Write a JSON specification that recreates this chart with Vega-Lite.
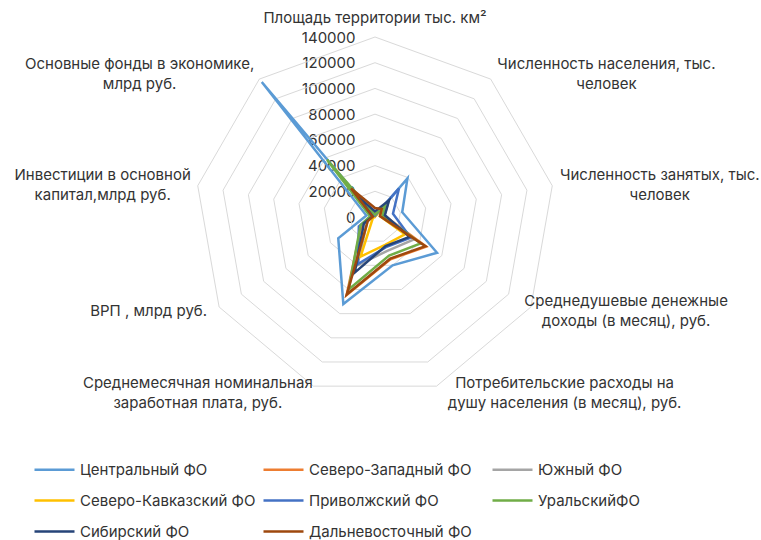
{
  "$schema": "https://vega.github.io/schema/vega-lite/v6.json",
  "width": 761,
  "height": 540,
  "autosize": {"type": "none"},
  "padding": 0,
  "background": "white",
  "config": {"view": {"stroke": null}, "font": "Inter"},
  "datasets": {
    "axes": [
      {"ind": "Площадь", "label": "Площадь территории тыс. км²"},
      {"ind": "Население", "label": "Численность населения, тыс.\nчеловек"},
      {"ind": "Занятые", "label": "Численность занятых, тыс.\nчеловек"},
      {"ind": "Доходы", "label": "Среднедушевые денежные\nдоходы (в месяц), руб."},
      {"ind": "Расходы", "label": "Потребительские расходы на\nдушу населения (в месяц), руб."},
      {"ind": "Зарплата", "label": "Среднемесячная номинальная\nзаработная плата, руб."},
      {"ind": "ВРП", "label": "ВРП , млрд руб."},
      {"ind": "Инвестиции", "label": "Инвестиции в основной\nкапитал,млрд руб."},
      {"ind": "Фонды", "label": "Основные фонды в экономике,\nмлрд руб."}
    ],
    "rings": [
      {"level": 20000, "ind": ["Площадь", "Население", "Занятые", "Доходы", "Расходы", "Зарплата", "ВРП", "Инвестиции", "Фонды"]},
      {"level": 40000, "ind": ["Площадь", "Население", "Занятые", "Доходы", "Расходы", "Зарплата", "ВРП", "Инвестиции", "Фонды"]},
      {"level": 60000, "ind": ["Площадь", "Население", "Занятые", "Доходы", "Расходы", "Зарплата", "ВРП", "Инвестиции", "Фонды"]},
      {"level": 80000, "ind": ["Площадь", "Население", "Занятые", "Доходы", "Расходы", "Зарплата", "ВРП", "Инвестиции", "Фонды"]},
      {"level": 100000, "ind": ["Площадь", "Население", "Занятые", "Доходы", "Расходы", "Зарплата", "ВРП", "Инвестиции", "Фонды"]},
      {"level": 120000, "ind": ["Площадь", "Население", "Занятые", "Доходы", "Расходы", "Зарплата", "ВРП", "Инвестиции", "Фонды"]},
      {"level": 140000, "ind": ["Площадь", "Население", "Занятые", "Доходы", "Расходы", "Зарплата", "ВРП", "Инвестиции", "Фонды"]}
    ],
    "values": [
      {"fo": "Центральный ФО", "ind": "Площадь", "v": 650},
      {"fo": "Центральный ФО", "ind": "Население", "v": 39250},
      {"fo": "Центральный ФО", "ind": "Занятые", "v": 21500},
      {"fo": "Центральный ФО", "ind": "Доходы", "v": 55700},
      {"fo": "Центральный ФО", "ind": "Расходы", "v": 40000},
      {"fo": "Центральный ФО", "ind": "Зарплата", "v": 72000},
      {"fo": "Центральный ФО", "ind": "ВРП", "v": 33000},
      {"fo": "Центральный ФО", "ind": "Инвестиции", "v": 6800},
      {"fo": "Центральный ФО", "ind": "Фонды", "v": 137000},
      {"fo": "Северо-Западный ФО", "ind": "Площадь", "v": 1687},
      {"fo": "Северо-Западный ФО", "ind": "Население", "v": 13950},
      {"fo": "Северо-Западный ФО", "ind": "Занятые", "v": 7100},
      {"fo": "Северо-Западный ФО", "ind": "Доходы", "v": 46000},
      {"fo": "Северо-Западный ФО", "ind": "Расходы", "v": 35000},
      {"fo": "Северо-Западный ФО", "ind": "Зарплата", "v": 64500},
      {"fo": "Северо-Западный ФО", "ind": "ВРП", "v": 12000},
      {"fo": "Северо-Западный ФО", "ind": "Инвестиции", "v": 2600},
      {"fo": "Северо-Западный ФО", "ind": "Фонды", "v": 26000},
      {"fo": "Южный ФО", "ind": "Площадь", "v": 448},
      {"fo": "Южный ФО", "ind": "Население", "v": 16450},
      {"fo": "Южный ФО", "ind": "Занятые", "v": 7500},
      {"fo": "Южный ФО", "ind": "Доходы", "v": 35000},
      {"fo": "Южный ФО", "ind": "Расходы", "v": 28000},
      {"fo": "Южный ФО", "ind": "Зарплата", "v": 40000},
      {"fo": "Южный ФО", "ind": "ВРП", "v": 7000},
      {"fo": "Южный ФО", "ind": "Инвестиции", "v": 1700},
      {"fo": "Южный ФО", "ind": "Фонды", "v": 14000},
      {"fo": "Северо-Кавказский ФО", "ind": "Площадь", "v": 170},
      {"fo": "Северо-Кавказский ФО", "ind": "Население", "v": 9970},
      {"fo": "Северо-Кавказский ФО", "ind": "Занятые", "v": 3900},
      {"fo": "Северо-Кавказский ФО", "ind": "Доходы", "v": 26800},
      {"fo": "Северо-Кавказский ФО", "ind": "Расходы", "v": 23000},
      {"fo": "Северо-Кавказский ФО", "ind": "Зарплата", "v": 32700},
      {"fo": "Северо-Кавказский ФО", "ind": "ВРП", "v": 2000},
      {"fo": "Северо-Кавказский ФО", "ind": "Инвестиции", "v": 600},
      {"fo": "Северо-Кавказский ФО", "ind": "Фонды", "v": 6000},
      {"fo": "Приволжский ФО", "ind": "Площадь", "v": 1037},
      {"fo": "Приволжский ФО", "ind": "Население", "v": 29000},
      {"fo": "Приволжский ФО", "ind": "Занятые", "v": 14200},
      {"fo": "Приволжский ФО", "ind": "Доходы", "v": 32000},
      {"fo": "Приволжский ФО", "ind": "Расходы", "v": 25000},
      {"fo": "Приволжский ФО", "ind": "Зарплата", "v": 39000},
      {"fo": "Приволжский ФО", "ind": "ВРП", "v": 14500},
      {"fo": "Приволжский ФО", "ind": "Инвестиции", "v": 3000},
      {"fo": "Приволжский ФО", "ind": "Фонды", "v": 28000},
      {"fo": "УральскийФО", "ind": "Площадь", "v": 1818},
      {"fo": "УральскийФО", "ind": "Население", "v": 12300},
      {"fo": "УральскийФО", "ind": "Занятые", "v": 6000},
      {"fo": "УральскийФО", "ind": "Доходы", "v": 41000},
      {"fo": "УральскийФО", "ind": "Расходы", "v": 32000},
      {"fo": "УральскийФО", "ind": "Зарплата", "v": 60000},
      {"fo": "УральскийФО", "ind": "ВРП", "v": 13000},
      {"fo": "УральскийФО", "ind": "Инвестиции", "v": 3800},
      {"fo": "УральскийФО", "ind": "Фонды", "v": 58000},
      {"fo": "Сибирский ФО", "ind": "Площадь", "v": 4362},
      {"fo": "Сибирский ФО", "ind": "Население", "v": 17000},
      {"fo": "Сибирский ФО", "ind": "Занятые", "v": 7800},
      {"fo": "Сибирский ФО", "ind": "Доходы", "v": 31000},
      {"fo": "Сибирский ФО", "ind": "Расходы", "v": 24000},
      {"fo": "Сибирский ФО", "ind": "Зарплата", "v": 46000},
      {"fo": "Сибирский ФО", "ind": "ВРП", "v": 10000},
      {"fo": "Сибирский ФО", "ind": "Инвестиции", "v": 1900},
      {"fo": "Сибирский ФО", "ind": "Фонды", "v": 22000},
      {"fo": "Дальневосточный ФО", "ind": "Площадь", "v": 6953},
      {"fo": "Дальневосточный ФО", "ind": "Население", "v": 8100},
      {"fo": "Дальневосточный ФО", "ind": "Занятые", "v": 3900},
      {"fo": "Дальневосточный ФО", "ind": "Доходы", "v": 45300},
      {"fo": "Дальневосточный ФО", "ind": "Расходы", "v": 34500},
      {"fo": "Дальневосточный ФО", "ind": "Зарплата", "v": 64200},
      {"fo": "Дальневосточный ФО", "ind": "ВРП", "v": 6500},
      {"fo": "Дальневосточный ФО", "ind": "Инвестиции", "v": 1800},
      {"fo": "Дальневосточный ФО", "ind": "Фонды", "v": 29000}
    ]
  },
  "encoding": {
    "x": {"field": "px", "type": "quantitative", "scale": {"domain": [-291667, 300222], "nice": false, "zero": false}, "axis": null},
    "y": {
      "field": "py", "type": "quantitative",
      "scale": {"domain": [-251222, 168778], "nice": false, "zero": false},
      "axis": {"orient": "left", "offset": -375, "values": [0, 20000, 40000, 60000, 80000, 100000, 120000, 140000], "format": "d", "domain": false, "ticks": false, "grid": false, "labelPadding": 20, "labelFontSize": 15, "labelFont": "Inter", "labelColor": "#333333", "title": null}
    }
  },
  "layer": [
    {
      "data": {"name": "rings"},
      "transform": [
        {"flatten": ["ind"]},
        {"calculate": "indexof(['Площадь','Население','Занятые','Доходы','Расходы','Зарплата','ВРП','Инвестиции','Фонды'], datum.ind)", "as": "i"},
        {"calculate": "datum.i * 2 * PI / 9", "as": "a"},
        {"calculate": "datum.level * sin(datum.a)", "as": "px"},
        {"calculate": "datum.level * cos(datum.a)", "as": "py"}
      ],
      "mark": {"type": "line", "interpolate": "linear-closed", "stroke": "#D9D9D9", "strokeWidth": 1},
      "encoding": {
        "detail": {"field": "level", "type": "nominal"},
        "order": {"field": "i", "type": "quantitative"}
      }
    },
    {
      "data": {"name": "values"},
      "transform": [
        {"calculate": "indexof(['Площадь','Население','Занятые','Доходы','Расходы','Зарплата','ВРП','Инвестиции','Фонды'], datum.ind)", "as": "i"},
        {"calculate": "datum.i * 2 * PI / 9", "as": "a"},
        {"calculate": "datum.v * sin(datum.a)", "as": "px"},
        {"calculate": "datum.v * cos(datum.a)", "as": "py"}
      ],
      "mark": {"type": "line", "interpolate": "linear-closed", "strokeWidth": 2.5},
      "encoding": {
        "color": {
          "field": "fo", "type": "nominal",
          "scale": {
            "domain": ["Центральный ФО", "Северо-Западный ФО", "Южный ФО", "Северо-Кавказский ФО", "Приволжский ФО", "УральскийФО", "Сибирский ФО", "Дальневосточный ФО"],
            "range": ["#5B9BD5", "#ED7D31", "#A5A5A5", "#FFC000", "#4472C4", "#70AD47", "#264478", "#9E480E"]
          },
          "legend": {
            "orient": "none", "legendX": 33, "legendY": 448, "columns": 3, "direction": "horizontal", "title": null,
            "symbolType": "stroke", "symbolSize": 1600, "symbolStrokeWidth": 2.5,
            "labelFont": "Inter", "labelFontSize": 15, "labelColor": "#333333",
            "labelOffset": 4, "labelLimit": 300, "gridAlign": "all", "columnPadding": 2, "rowPadding": 1
          }
        },
        "order": {"field": "i", "type": "quantitative"}
      }
    },
    {
      "data": {"name": "axes"},
      "transform": [
        {"calculate": "indexof(['Площадь','Население','Занятые','Доходы','Расходы','Зарплата','ВРП','Инвестиции','Фонды'], datum.ind)", "as": "i"},
        {"calculate": "datum.i * 2 * PI / 9", "as": "a"},
        {"calculate": "sin(datum.a) > 0.1 ? 1 : (sin(datum.a) < -0.1 ? -1 : 0)", "as": "side"},
        {"calculate": "indexof(datum.label, '\\n') >= 0 ? 2 : 1", "as": "nl"},
        {"calculate": "datum.nl == 2 ? max(length(split(datum.label, '\\n')[0]), length(split(datum.label, '\\n')[1])) : length(datum.label)", "as": "mlen"},
        {"calculate": "140000 * sin(datum.a) + datum.side * ((datum.side < 0 ? 9 : 5) + datum.mlen * 4.1) * 140000 / 180", "as": "px"},
        {"calculate": "140000 * cos(datum.a) + ((datum.side == 0 ? 19 : 7 * cos(datum.a)) + (datum.nl - 1) * 10) * 140000 / 180", "as": "py"}
      ],
      "mark": {"type": "text", "lineBreak": "\n", "fontSize": 15, "font": "Inter", "color": "#333333", "align": "center", "baseline": "middle", "lineHeight": 20},
      "encoding": {
        "text": {"field": "label", "type": "nominal"}
      }
    }
  ]
}
